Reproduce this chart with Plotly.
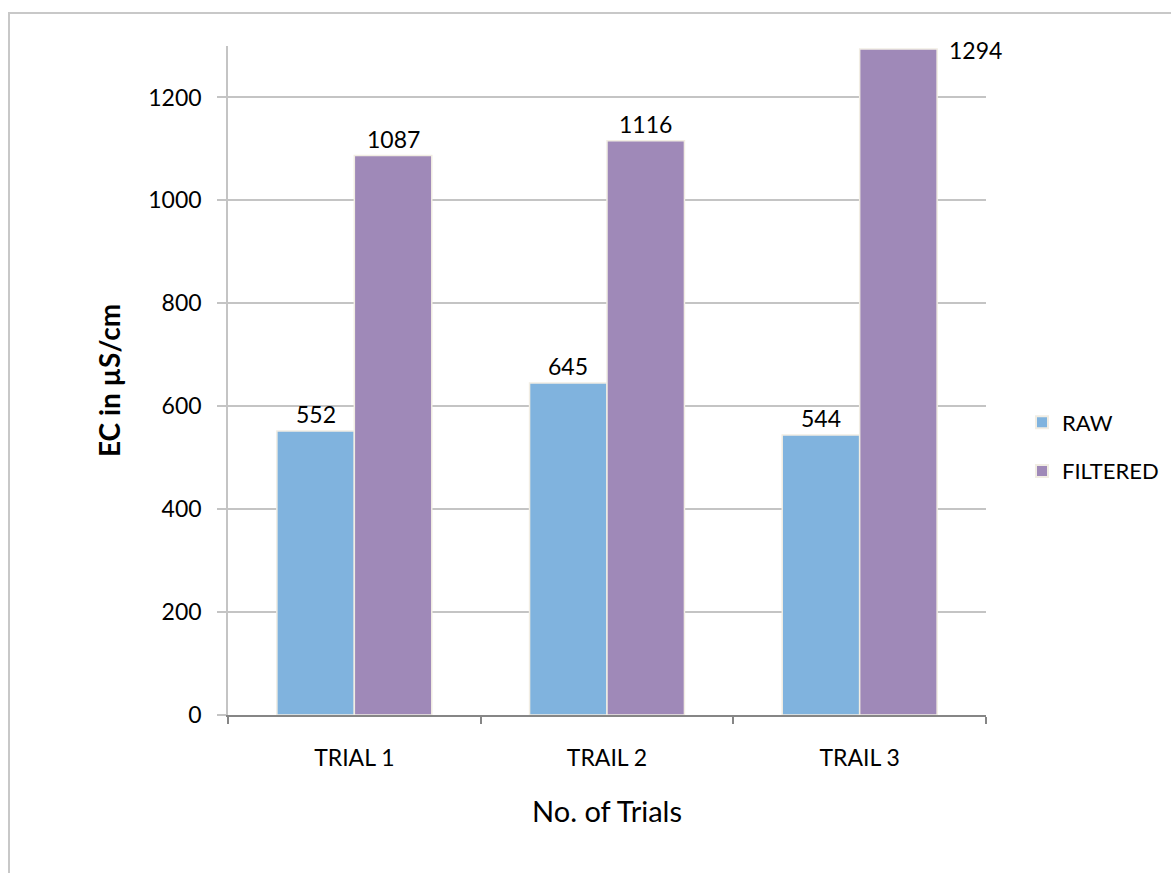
import plotly.graph_objects as go

# Conductivity readings per trial
trials = ["TRIAL 1", "TRAIL 2", "TRAIL 3"]
raw_ec = [552, 645, 544]
filtered_ec = [1087, 1116, 1294]

series_names = ["RAW", "FILTERED"]
series_colors = ["#80b3de", "#9f89b8"]
y_ticks = [0, 200, 400, 600, 800, 1000, 1200]

W, H = 1171, 873
M_L, M_R, M_T, M_B = 228, 185, 46, 158
BARGAP = 0.387
FONT = "Lato, 'Open Sans', sans-serif"
TXT = "#000000"

fig = go.Figure()
for name, vals, col in zip(series_names, [raw_ec, filtered_ec], series_colors):
    fig.add_trace(go.Bar(
        name=name, x=trials, y=vals, legendgroup=name,
        marker=dict(color=col, line=dict(color="#f1ede3", width=1.5)),
    ))

# Data labels placed just above each bar
plot_w = W - M_L - M_R
cat_px = plot_w / len(trials)
bar_px = cat_px * (1 - BARGAP) / 2
annotations = []
for si, vals in enumerate([raw_ec, filtered_ec]):
    off = (si - 0.5) * bar_px
    for ci, v in enumerate(vals):
        top_limited = v > 1250
        annotations.append(dict(
            x=trials[ci], y=v, xref="x", yref="y", text=str(v), showarrow=False,
            xanchor="left" if top_limited else "center",
            yanchor="middle" if top_limited else "bottom",
            xshift=off + (bar_px / 2 + 10 if top_limited else 0),
            yshift=-1 if top_limited else 1,
            font=dict(family=FONT, size=23, color=TXT),
        ))

# Outer chart frame (left and top edges visible)
px_x = lambda p: (p - M_L) / plot_w
px_y = lambda p: (H - M_B - p) / (H - M_T - M_B)
frame = dict(type="rect", xref="paper", yref="paper",
             x0=px_x(9), x1=px_x(W + 5), y0=px_y(H + 5), y1=px_y(13),
             line=dict(color="#c8c8c8", width=2), fillcolor="rgba(0,0,0,0)", layer="below")

fig.update_layout(
    width=W, height=H,
    margin=dict(l=M_L, r=M_R, t=M_T, b=M_B, pad=0, autoexpand=False),
    paper_bgcolor="white", plot_bgcolor="white",
    barmode="group", bargap=BARGAP, bargroupgap=0,
    font=dict(family=FONT, size=22, color=TXT),
    showlegend=True,
    legend=dict(x=px_x(1022), y=px_y(447), xanchor="left", yanchor="middle",
                font=dict(family=FONT, size=22, color=TXT),
                tracegroupgap=17, itemsizing="constant", bgcolor="rgba(0,0,0,0)"),
    annotations=annotations,
    shapes=[frame],
    xaxis=dict(
        type="category", tickson="boundaries", showgrid=False,
        range=[-0.5, len(trials) - 0.5],
        showline=True, linecolor="#868686", linewidth=2,
        ticks="outside", ticklen=7, tickwidth=2, tickcolor="#868686",
        ticklabelstandoff=21,
        tickfont=dict(family=FONT, size=23, color=TXT),
        title=dict(text="No. of Trials", standoff=32,
                   font=dict(family=FONT, size=29, color=TXT)),
    ),
    yaxis=dict(
        range=[0, 1300], tickvals=y_ticks, showgrid=True,
        gridcolor="#c4c4c4", gridwidth=1.5,
        showline=True, linecolor="#c4c4c4", linewidth=1.5,
        ticks="outside", ticklen=9, tickwidth=1.5, tickcolor="#c4c4c4",
        ticklabelstandoff=11, zeroline=False,
        tickfont=dict(family=FONT, size=23, color=TXT),
        title=dict(text="<b>EC in µS/cm</b>", standoff=19,
                   font=dict(family=FONT, size=28, color=TXT)),
    ),
)

fig.write_html("out.html")
